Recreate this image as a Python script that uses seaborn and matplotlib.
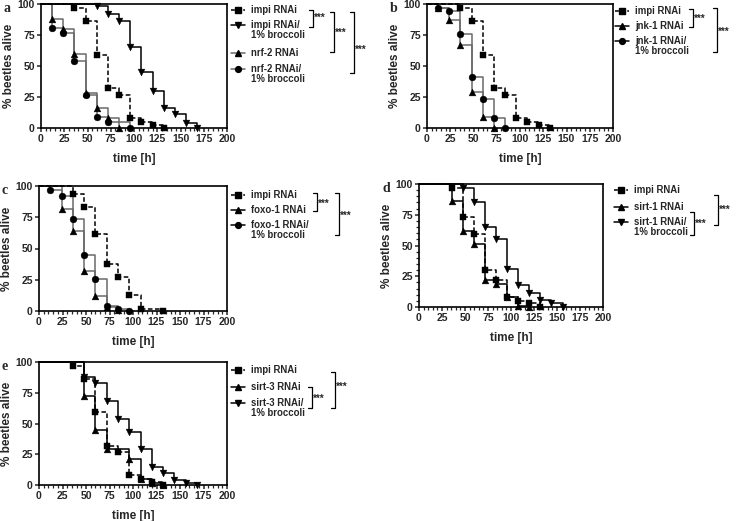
import numpy as np
import seaborn as sns
import matplotlib.pyplot as plt
from matplotlib.lines import Line2D
from matplotlib.ticker import MultipleLocator

sns.set_style('ticks')
plt.rcParams['font.family'] = ['Liberation Sans', 'DejaVu Sans']
plt.rcParams['font.weight'] = 'bold'

W, H = 738, 521

# survival data (time in h, % alive)
t_impi = [0, 36, 48, 60, 72, 84, 96, 108, 120, 132]
s_impi = [100, 97, 86, 59, 32, 27, 8, 5, 2.5, 0]

t_impi_broc = [0, 60, 72, 84, 96, 108, 120, 132, 144, 156, 168]
s_impi_broc = [100, 98, 92, 86, 65, 45, 30, 16, 11, 4, 0]
t_nrf2 = [0, 12, 24, 36, 48, 60, 72, 84]
s_nrf2 = [100, 88, 80, 60, 28, 16, 8, 0]
t_nrf2_broc = [0, 12, 24, 36, 48, 60, 72, 96]
s_nrf2_broc = [100, 81, 77, 54, 27, 9, 5, 0]

t_jnk1 = [0, 12, 24, 36, 48, 60, 72]
s_jnk1 = [100, 97, 87, 67, 29, 9, 0]
t_jnk1_broc = [0, 12, 24, 36, 48, 60, 72, 84]
s_jnk1_broc = [100, 97, 94, 76, 41, 23, 8, 0]

t_impi_c = [0, 36, 48, 60, 72, 84, 96, 108, 132]
s_impi_c = [100, 94, 83, 62, 38, 27, 13, 2, 0]
t_foxo1 = [0, 24, 36, 48, 60, 72, 84]
s_foxo1 = [100, 82, 64, 32, 12, 3, 1]
t_foxo1_broc = [0, 12, 24, 36, 48, 60, 72, 84, 96]
s_foxo1_broc = [100, 97, 92, 74, 45, 26, 4, 2, 0]

t_impi_d = [0, 36, 48, 60, 72, 84, 96, 108, 120, 132]
s_impi_d = [100, 97, 73, 59, 30, 22, 8, 5, 3, 0]
t_sirt1 = [0, 36, 48, 60, 72, 84, 96, 108, 120]
s_sirt1 = [100, 86, 62, 51, 22, 19, 8, 1, 0]
t_sirt1_broc = [0, 48, 60, 72, 84, 96, 108, 120, 132, 144, 156]
s_sirt1_broc = [100, 97, 85, 65, 55, 31, 18, 11, 6, 3, 0]

t_sirt3 = [0, 48, 60, 72, 96, 108, 120, 132]
s_sirt3 = [100, 72, 45, 29, 21, 5, 2, 0]
t_sirt3_broc = [0, 48, 60, 72, 84, 96, 108, 120, 132, 144, 156, 168]
s_sirt3_broc = [100, 88, 83, 68, 54, 43, 29, 15, 10, 4, 2, 0]

GRAY = '#6a6a6a'
DASH = (3, 1.6)
SANS = ['Liberation Sans', 'DejaVu Sans']


def fx(x):
    return x / W


def fy(y):
    return 1 - y / H


fig = plt.figure(figsize=(W / 100, H / 100), dpi=100)


def make_ax(l, t, r, b, letter, minor_y=False):
    ax = fig.add_axes([fx(l), fy(b), fx(r) - fx(l), (b - t) / H])
    ax.set_xlim(0, 200)
    ax.set_ylim(0, 100)
    ax.xaxis.set_major_locator(MultipleLocator(25))
    ax.xaxis.set_minor_locator(MultipleLocator(5))
    ax.yaxis.set_major_locator(MultipleLocator(25))
    if minor_y:
        ax.yaxis.set_minor_locator(MultipleLocator(5))
    ax.tick_params(which='major', length=3, width=1.1, labelsize=7.5, pad=1.5)
    ax.tick_params(which='minor', length=2, width=0.9)
    for lab in ax.get_xticklabels() + ax.get_yticklabels():
        lab.set_fontweight('bold')
        lab.set_family(SANS)
    for sp in ax.spines.values():
        sp.set_linewidth(1.2)
        sp.set_color('black')
    ax.set_xlabel('time [h]', fontsize=8.5, fontweight='bold', family=SANS, labelpad=6)
    ax.set_ylabel('% beetles alive', fontsize=8.5, fontweight='bold', family=SANS,
                  labelpad=2)
    fig.text(fx(l - 37), fy(t + 4), letter, fontsize=10, fontweight='bold',
             family='Liberation Serif', va='center', ha='left')
    return ax


def curve(ax, t, s, marker, color='black', dashed=False):
    line = sns.lineplot(x=t, y=s, ax=ax, drawstyle='steps-post', color=color,
                        linewidth=1.1, estimator=None, sort=False, legend=False)
    ln = line.get_lines()[-1]
    ln.set_clip_on(False)
    if dashed:
        ln.set_dashes(DASH)
    sns.scatterplot(x=t[1:], y=s[1:], ax=ax, marker=marker, color='black',
                    s=24, edgecolor='black', linewidth=0.3, zorder=5,
                    clip_on=False, legend=False)


def legend(x0, entries):
    for y, marker, dashed, color, text in entries:
        ln = Line2D([fx(x0), fx(x0 + 14)], [fy(y), fy(y)], transform=fig.transFigure,
                    color=color, linewidth=1.1)
        if dashed:
            ln.set_dashes((2.5, 1.5))
        fig.add_artist(ln)
        fig.add_artist(Line2D([fx(x0 + 7)], [fy(y)], transform=fig.transFigure,
                              marker=marker, color='black', markersize=4.2,
                              linestyle='none'))
        fig.text(fx(x0 + 20), fy(y - 5), text, fontsize=6.9, fontweight='bold',
                 family=SANS, va='top', ha='left', linespacing=1.05)


def bracket(x, y1, y2, sy):
    fig.add_artist(Line2D([fx(x - 4), fx(x), fx(x), fx(x - 4)],
                          [fy(y1), fy(y1), fy(y2), fy(y2)],
                          transform=fig.transFigure, color='black', linewidth=0.9))
    fig.text(fx(x + 1), fy(sy), '***', fontsize=7, fontweight='bold', family=SANS,
             va='center', ha='left')


# panel a
ax = make_ax(41, 4, 227, 128, 'a')
curve(ax, t_nrf2, s_nrf2, '^', GRAY)
curve(ax, t_nrf2_broc, s_nrf2_broc, 'o', GRAY)
curve(ax, t_impi_broc, s_impi_broc, 'v')
curve(ax, t_impi, s_impi, 's', dashed=True)
legend(231, [(10, 's', True, 'black', 'impi RNAi'),
             (25, 'v', False, 'black', 'impi RNAi/\n1% broccoli'),
             (53, '^', False, GRAY, 'nrf-2 RNAi'),
             (69, 'o', False, GRAY, 'nrf-2 RNAi/\n1% broccoli')])
bracket(313, 10, 27, 18)
bracket(334, 12, 52, 33)
bracket(354, 12, 73, 50)

# panel b
ax = make_ax(427, 4, 613, 128, 'b')
curve(ax, t_jnk1, s_jnk1, '^', GRAY)
curve(ax, t_jnk1_broc, s_jnk1_broc, 'o', GRAY)
curve(ax, t_impi, s_impi, 's', dashed=True)
legend(615, [(11, 's', True, 'black', 'impi RNAi'),
             (26, '^', False, 'black', 'jnk-1 RNAi'),
             (41, 'o', False, 'black', 'jnk-1 RNAi/\n1% broccoli')])
bracket(693, 9, 27, 19)
bracket(717, 8, 52, 32)

# panel c
ax = make_ax(39, 186, 227, 311, 'c')
curve(ax, t_foxo1, s_foxo1, '^', GRAY)
curve(ax, t_foxo1_broc, s_foxo1_broc, 'o', GRAY)
curve(ax, t_impi_c, s_impi_c, 's', dashed=True)
legend(231, [(195, 's', True, 'black', 'impi RNAi'),
             (210, '^', False, 'black', 'foxo-1 RNAi'),
             (225, 'o', False, 'black', 'foxo-1 RNAi/\n1% broccoli')])
bracket(317, 193, 211, 204)
bracket(339, 193, 235, 216)

# panel d
ax = make_ax(419, 184, 603, 307, 'd', minor_y=True)
curve(ax, t_sirt1, s_sirt1, '^')
curve(ax, t_sirt1_broc, s_sirt1_broc, 'v')
curve(ax, t_impi_d, s_impi_d, 's', dashed=True)
legend(614, [(190, 's', True, 'black', 'impi RNAi'),
             (207, '^', False, 'black', 'sirt-1 RNAi'),
             (222, 'v', False, 'black', 'sirt-1 RNAi/\n1% broccoli')])
bracket(694, 212, 235, 224)
bracket(718, 195, 225, 210)

# panel e
ax = make_ax(39, 362, 227, 485, 'e')
curve(ax, t_sirt3, s_sirt3, '^')
curve(ax, t_sirt3_broc, s_sirt3_broc, 'v')
curve(ax, t_impi, s_impi, 's', dashed=True)
legend(231, [(370, 's', True, 'black', 'impi RNAi'),
             (387, '^', False, 'black', 'sirt-3 RNAi'),
             (403, 'v', False, 'black', 'sirt-3 RNAi/\n1% broccoli')])
bracket(312, 387, 408, 399)
bracket(335, 372, 408, 387)

fig.savefig('out.png', dpi=100)
